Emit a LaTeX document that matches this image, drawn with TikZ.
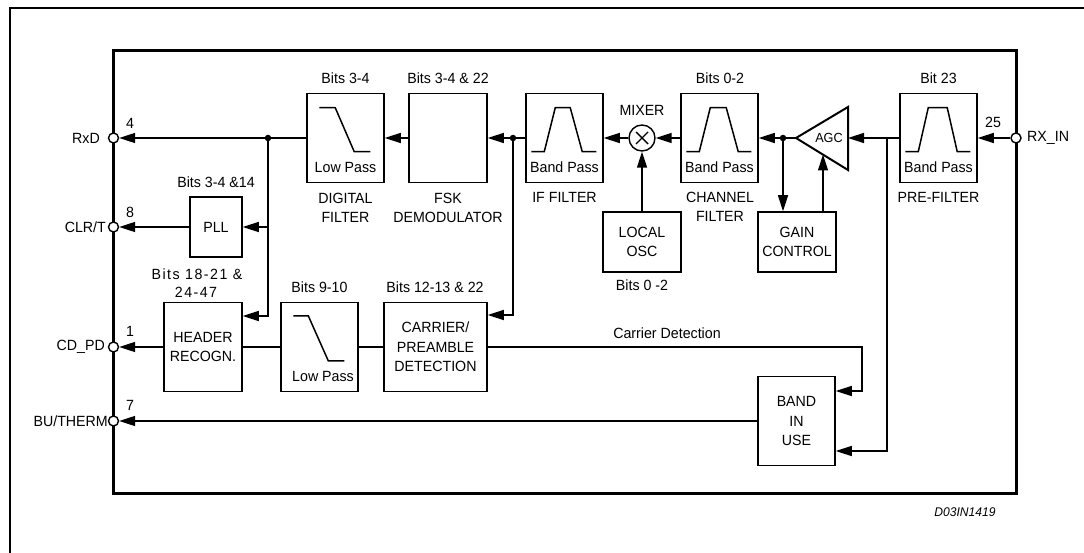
\documentclass[tikz,border=0pt]{standalone}
\usepackage{fontspec}
\setmainfont{Liberation Sans}[FakeStretch=0.96]
\usetikzlibrary{arrows.meta}
\begin{document}
\begin{tikzpicture}[x=1pt,y=-1pt,
  lbl/.style={font=\fontsize{14.8}{19.5}\selectfont, inner sep=0pt, align=center},
  blk/.style={draw, line width=1.5pt, inner sep=0pt, font=\fontsize{14.8}{19.5}\selectfont, align=center},
  conn/.style={line width=1.5pt},
  arr/.style={conn, -{Triangle[length=16pt,width=10pt]}},
  pinc/.style={circle, draw, fill=white, line width=1.4pt, minimum size=10pt, inner sep=0pt},
  jdot/.style={circle, fill, minimum size=6.5pt, inner sep=0pt},
  lpsym/.style={conn},
]
\useasboundingbox (0,0) rectangle (1084,553);
% frames
\draw[line width=2pt] (1084,8) -- (10,8) -- (10,553);
\draw[line width=3pt] (113.5,51) rectangle (1016,493);

% blocks
\node[blk, minimum width=77pt, minimum height=89pt] (dig) at (345.5,138) {};
\node[blk, minimum width=78pt, minimum height=89pt] (fsk) at (448,138) {};
\node[blk, minimum width=77pt, minimum height=89pt] (iff) at (564.5,138) {};
\node[blk, minimum width=77pt, minimum height=89pt] (chf) at (719.5,138) {};
\node[blk, minimum width=77pt, minimum height=89pt] (pre) at (938.5,138) {};
\node[blk, minimum width=52pt, minimum height=60pt] (pll) at (216,227) {PLL};
\node[blk, minimum width=78pt, minimum height=60pt] (osc) at (642,242) {LOCAL\\OSC};
\node[blk, minimum width=78pt, minimum height=60pt] (gain) at (797,242) {GAIN\\CONTROL};
\node[blk, minimum width=78pt, minimum height=89pt] (hdr) at (203,347) {HEADER\\RECOGN.};
\node[blk, minimum width=77pt, minimum height=89pt] (lp2) at (319.5,347) {};
\node[blk, minimum width=103pt, minimum height=89pt] (car) at (435.5,347) {CARRIER/\\PREAMBLE\\DETECTION};
\node[blk, minimum width=77pt, minimum height=89pt] (band) at (796.5,421) {BAND\\IN\\USE};

% filter symbols
\draw[lpsym, shift={(dig.north west)}] (13,15) -- (29,15) -- (48,59) -- (64,59);
\draw[lpsym, shift={(lp2.north west)}] (13,14) -- (28,14) -- (48,59) -- (64,59);
\draw[lpsym, shift={(iff.north west)}] (6,59) -- (19,59) -- (30,15) -- (45,15) -- (57,59) -- (71,59);
\draw[lpsym, shift={(chf.north west)}] (6,59) -- (19,59) -- (30,15) -- (46,15) -- (58,59) -- (71,59);
\draw[lpsym, shift={(pre.north west)}] (6,59) -- (19,59) -- (29,15) -- (48,15) -- (58,59) -- (71,59);
\node[lbl] (tdig) at (345.5,167) {Low Pass};
\node[lbl] (tlp2) at (323,376) {Low Pass};
\node[lbl] (tiff) at (564.5,167) {Band Pass};
\node[lbl] (tchf) at (719.5,167) {Band Pass};
\node[lbl] (tpre) at (938.5,167) {Band Pass};

% mixer
\node[circle, draw, line width=1.4pt, minimum size=26pt, inner sep=0pt] (mix) at (642,138) {};
\draw[line width=1.4pt] (636,132) -- (648,144) (636,144) -- (648,132);

% AGC
\coordinate (agcL) at (796,138);
\coordinate (agcR) at (848,138);
\coordinate (agcB) at (823,154.5);
\draw[line width=2pt, line join=miter] (796,138) -- (848,107) -- (848,170) -- cycle;
\node[font=\fontsize{13.2}{15}\selectfont, inner sep=0pt] (agct) at (829,138) {AGC};

% junctions
\node[jdot] (j1) at (268,138) {};
\node[jdot] (j2) at (513,138) {};
\node[jdot] (j3) at (783,138) {};
\coordinate (c887) at (887,138);

% pins
\node[pinc] (pRxD) at (113.5,138) {};
\node[pinc] (pCLR) at (113.5,227) {};
\node[pinc] (pCD) at (113.5,347) {};
\node[pinc] (pBU) at (113.5,421) {};
\node[pinc] (pRX) at (1016,138) {};

% connectors
\draw[arr] (dig.west) -- (pRxD);
\draw[arr] (j1) |- ([yshift=31pt]hdr.east);
\draw[arr] (j1 |- pll.east) -- (pll.east);
\draw[arr] (pll.west) -- (pCLR);
\draw[arr] (hdr.west) -- (pCD);
\draw[conn] (hdr.east) -- (lp2.west);
\draw[conn] (lp2.east) -- (car.west);
\draw[arr] (fsk.west) -- (dig.east);
\draw[arr] (iff.west) -- (fsk.east);
\draw[arr] (j2) |- ([yshift=32pt]car.east);
\draw[arr] (mix.west) -- (iff.east);
\draw[arr] (osc.north) -- (mix.south);
\draw[arr] (chf.west) -- (mix.east);
\draw[arr] (agcL) -- (chf.east);
\draw[arr] (j3) -- (j3 |- gain.north);
\draw[arr] (gain.north -| agcB) -- (agcB);
\draw[arr] (pre.west) -- (agcR);
\draw[arr] (c887) |- ([yshift=-30pt]band.east);
\draw[arr] (pRX) -- (pre.east);
\draw[arr] (car.east) -- ++(374,0) |- ([yshift=30pt]band.east);
\draw[arr] (band.west) -- (pBU);

% pin labels
\node[lbl, anchor=east] (lRxD) at (100,138) {RxD};
\node[lbl, anchor=east] (lCLR) at (106,227) {CLR/T};
\node[lbl, anchor=east] (lCD) at (105,347) {CD\_PD};
\node[lbl, anchor=east] (lBU) at (108,421) {BU/THERM};
\node[lbl, anchor=west] (lRX) at (1027,138) {RX\_IN};
\node[lbl] (n4) at (130,123) {4};
\node[lbl] (n8) at (130,212) {8};
\node[lbl] (n1) at (130,331) {1};
\node[lbl] (n7) at (130,405) {7};
\node[lbl] (n25) at (993,122) {25};

% block labels
\node[lbl] at (345.5,78) {Bits 3-4};
\node[lbl] at (448,78) {Bits 3-4 \& 22};
\node[lbl] at (720,78) {Bits 0-2};
\node[lbl] at (938.5,78) {Bit 23};
\node[lbl] at (642,110) {MIXER};
\node[lbl] at (216,182) {Bits 3-4 \&14};
\node[lbl] at (197,274) {\addfontfeature{LetterSpace=10}Bits 18-21 \&};
\node[lbl] at (196,292) {\addfontfeature{LetterSpace=10}24-47};
\node[lbl] at (319.5,287) {Bits 9-10};
\node[lbl] at (435,287) {Bits 12-13 \& 22};
\node[lbl] at (642,285) {Bits 0 -2};
\node[lbl] at (345.5,208) {DIGITAL\\FILTER};
\node[lbl] at (448,208) {FSK\\DEMODULATOR};
\node[lbl] at (564.5,197) {IF FILTER};
\node[lbl] at (720,207) {CHANNEL\\FILTER};
\node[lbl] at (938.5,197) {PRE-FILTER};
\node[lbl] at (667,333) {Carrier Detection};
\node[font=\fontsize{12.6}{15}\selectfont\itshape, inner sep=0pt] at (965,512) {D03IN1419};
\end{tikzpicture}
\end{document}
